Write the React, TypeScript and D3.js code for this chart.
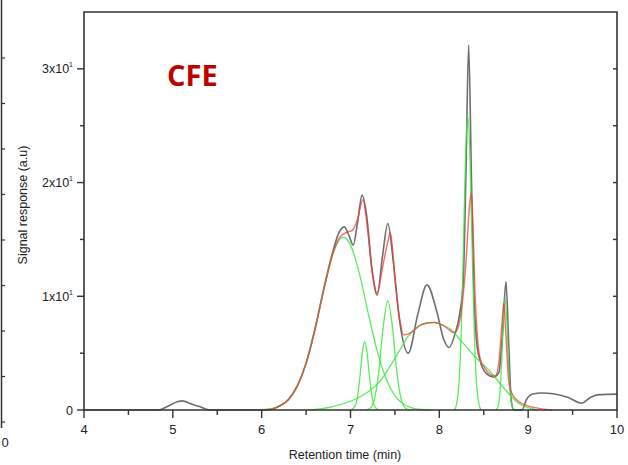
import React, { useEffect, useRef } from 'react';
import * as d3 from 'd3';

// axis ticks
const xTicks = [4, 5, 6, 7, 8, 9, 10];
const xMinor = [4.5, 5.5, 6.5, 7.5, 8.5, 9.5];
const yTicks = [0, 10, 20, 30];
const yMinor = [5, 15, 25];
const yLabels = ['0', '1x10', '2x10', '3x10'];

// measured chromatogram (black)
const signal: [number, number][] = [
  [4, 0], [4.84, 0], [4.95, 0.35], [5.05, 0.72], [5.11, 0.8], [5.2, 0.55], [5.3, 0.3], [5.42, 0],
  [6.0, 0], [6.1, 0.05], [6.2, 0.35], [6.3, 0.9], [6.4, 2.1], [6.5, 4.1], [6.6, 7.1], [6.7, 10.7],
  [6.8, 13.9], [6.87, 15.6], [6.93, 16.1], [6.98, 15.4], [7.03, 14.5], [7.08, 16.5], [7.13, 18.9],
  [7.18, 17.2], [7.24, 12.5], [7.3, 10.1], [7.36, 13.5], [7.42, 16.4], [7.48, 13.2], [7.55, 8.0],
  [7.65, 5.0], [7.76, 8.5], [7.86, 11.0], [7.97, 8.7], [8.05, 6.2], [8.11, 5.5], [8.18, 6.8],
  [8.23, 8.5], [8.27, 11.5], [8.3, 21], [8.33, 32.1], [8.36, 21], [8.39, 10], [8.42, 6.0],
  [8.46, 4.3], [8.53, 3.2], [8.61, 2.9], [8.67, 3.3], [8.71, 6.5], [8.75, 11.3], [8.78, 6.0],
  [8.81, 0.8], [8.84, 0], [8.93, 0], [8.98, 0.9], [9.05, 1.4], [9.15, 1.5], [9.3, 1.4],
  [9.45, 1.1], [9.6, 0.6], [9.7, 1.1], [9.8, 1.35], [10, 1.4]
];

// cumulative fit (red)
const fit: [number, number][] = [
  [6.0, 0], [6.1, 0.05], [6.2, 0.35], [6.3, 0.9], [6.4, 2.1], [6.5, 4.1], [6.6, 7.1], [6.7, 10.6],
  [6.8, 13.7], [6.88, 15.2], [6.95, 15.6], [7.02, 15.8], [7.08, 16.8], [7.14, 18.5], [7.19, 16.0],
  [7.25, 11.8], [7.3, 10.3], [7.36, 12.5], [7.42, 14.8], [7.45, 15.6], [7.5, 11.5], [7.55, 8.2],
  [7.6, 6.6], [7.68, 6.8], [7.8, 7.5], [7.94, 7.7], [8.05, 7.4], [8.17, 6.8], [8.22, 7.5],
  [8.26, 9.5], [8.3, 13], [8.34, 18], [8.36, 19.1], [8.38, 16], [8.4, 10.5], [8.43, 6.3],
  [8.46, 4.5], [8.52, 3.6], [8.58, 3.1], [8.63, 3.0], [8.67, 4.2], [8.7, 7.0], [8.725, 9.4],
  [8.75, 6.5], [8.78, 2.6], [8.81, 1.6], [8.87, 0.9], [8.95, 0.5], [9.05, 0.25], [9.15, 0.1], [9.27, 0]
];

// deconvoluted peaks (green)
const peak1: [number, number][] = [
  [6.0, 0.03], [6.2, 0.33], [6.3, 0.89], [6.4, 2.06], [6.5, 4.12], [6.6, 7.13], [6.7, 10.6],
  [6.8, 13.7], [6.92, 15.2], [7.0, 14.5], [7.1, 12.0], [7.2, 8.5], [7.3, 5.2], [7.4, 2.77],
  [7.5, 1.26], [7.6, 0.5], [7.7, 0.17], [7.8, 0.05], [7.9, 0]
];
const peak2: [number, number][] = [
  [7.01, 0.02], [7.06, 0.51], [7.085, 1.5], [7.11, 3.24], [7.135, 5.14], [7.16, 6.0],
  [7.185, 5.14], [7.21, 3.24], [7.235, 1.5], [7.26, 0.51], [7.31, 0.02]
];
const peak3: [number, number][] = [
  [7.17, 0.01], [7.22, 0.16], [7.27, 0.96], [7.32, 3.46], [7.37, 7.44], [7.42, 9.6],
  [7.47, 7.44], [7.52, 3.46], [7.57, 0.96], [7.62, 0.16], [7.67, 0.01]
];
const peak4: [number, number][] = [
  [6.55, 0], [6.8, 0.3], [7.04, 0.9], [7.2, 1.6], [7.34, 2.6], [7.45, 3.9], [7.55, 5.2],
  [7.65, 6.5], [7.75, 7.3], [7.85, 7.65], [7.95, 7.7], [8.05, 7.45], [8.17, 6.8], [8.21, 6.4],
  [8.3, 5.6], [8.4, 4.7], [8.56, 3.5], [8.74, 1.8], [8.89, 0.6], [9.0, 0.2], [9.1, 0]
];
const peak5: [number, number][] = [
  [8.17, 0], [8.195, 0.55], [8.22, 2.2], [8.245, 6.5], [8.27, 14.0], [8.295, 22.2], [8.32, 25.9],
  [8.345, 22.2], [8.37, 14.0], [8.395, 6.5], [8.42, 2.2], [8.445, 0.55], [8.47, 0]
];
const peak6: [number, number][] = [
  [8.64, 0.04], [8.66, 0.28], [8.68, 1.33], [8.7, 4.0], [8.72, 7.84], [8.74, 9.8],
  [8.76, 7.84], [8.78, 4.0], [8.8, 1.33], [8.82, 0.28], [8.84, 0.04]
];
const peaks = [peak1, peak2, peak3, peak4, peak5, peak6];

// cropped neighbouring panel on the far left
const sideTicks = [0, 1, 2, 3, 4, 5, 6, 7, 8];

export default function App() {
  const svgRef = useRef<SVGSVGElement>(null);

  useEffect(() => {
    const width = 628;
    const height = 465;
    const margin = { top: 12, right: 11, bottom: 55, left: 84 };
    const svg = d3.select(svgRef.current);
    svg.selectAll('*').remove();

    const x = d3.scaleLinear().domain([4, 10]).range([margin.left, width - margin.right]);
    const y = d3.scaleLinear().domain([0, 35]).range([height - margin.bottom, margin.top]);
    const axisColor = '#333';
    const font = 'Liberation Sans, Arial, sans-serif';

    // leftover panel edge
    const side = d3.scaleLinear().domain([0, 8]).range([58, 422]);
    svg.append('line').attr('x1', 1.5).attr('x2', 1.5).attr('y1', 0).attr('y2', 428)
      .attr('stroke', axisColor).attr('stroke-width', 1.5);
    svg.selectAll('.side-tick').data(sideTicks).join('line')
      .attr('x1', 1.5).attr('x2', 5).attr('y1', d => side(d)).attr('y2', d => side(d))
      .attr('stroke', axisColor).attr('stroke-width', 1.2);
    svg.append('text').attr('x', 5).attr('y', 447).attr('text-anchor', 'middle')
      .attr('font-family', font).attr('font-size', 13).attr('fill', '#222').text('0');

    const line = d3.line<[number, number]>()
      .x(d => x(d[0]))
      .y(d => y(d[1]))
      .curve(d3.curveMonotoneX);

    const g = svg.append('g');
    g.append('path').datum(signal).attr('d', line).attr('fill', 'none')
      .attr('stroke', '#555').attr('stroke-width', 1.6).attr('stroke-opacity', 0.85);
    g.selectAll('.peak').data(peaks).join('path')
      .attr('d', d => line(d)).attr('fill', 'none')
      .attr('stroke', '#3ee83e').attr('stroke-width', 1.3).attr('stroke-opacity', 0.85);
    g.append('path').datum(fit).attr('d', line).attr('fill', 'none')
      .attr('stroke', '#f03c3c').attr('stroke-width', 1.4).attr('stroke-opacity', 0.75);

    // frame
    const x0 = x(4), x1 = x(10), y0 = y(0), y1 = y(35);
    svg.append('path').attr('d', `M${x0},${y0}V${y1}H${x1}V${y0}Z`).attr('fill', 'none')
      .attr('stroke', axisColor).attr('stroke-width', 1.6);

    // x axis ticks (outward)
    svg.selectAll('.xt').data(xTicks).join('line')
      .attr('x1', d => x(d)).attr('x2', d => x(d)).attr('y1', y0).attr('y2', y0 + 8)
      .attr('stroke', axisColor).attr('stroke-width', 1.4);
    svg.selectAll('.xm').data(xMinor).join('line')
      .attr('x1', d => x(d)).attr('x2', d => x(d)).attr('y1', y0).attr('y2', y0 + 5)
      .attr('stroke', axisColor).attr('stroke-width', 1.4);
    svg.selectAll('.xl').data(xTicks).join('text')
      .attr('x', d => x(d)).attr('y', y0 + 24).attr('text-anchor', 'middle')
      .attr('font-family', font).attr('font-size', 13).attr('fill', '#222')
      .text(d => String(d));

    // y axis ticks (outward on left, inward on right)
    svg.selectAll('.yt').data(yTicks).join('line')
      .attr('x1', x0 - 7).attr('x2', x0).attr('y1', d => y(d)).attr('y2', d => y(d))
      .attr('stroke', axisColor).attr('stroke-width', 1.4);
    svg.selectAll('.ym').data(yMinor).join('line')
      .attr('x1', x0 - 4).attr('x2', x0).attr('y1', d => y(d)).attr('y2', d => y(d))
      .attr('stroke', axisColor).attr('stroke-width', 1.4);
    svg.selectAll('.yr').data([...yTicks.slice(1), ...yMinor]).join('line')
      .attr('x1', x1 - 4).attr('x2', x1).attr('y1', d => y(d)).attr('y2', d => y(d))
      .attr('stroke', axisColor).attr('stroke-width', 1.4);

    const yl = svg.selectAll('.yl').data(yTicks).join('text')
      .attr('x', x0 - 11).attr('y', d => y(d) + 4.5).attr('text-anchor', 'end')
      .attr('font-family', font).attr('font-size', 12.5).attr('fill', '#222');
    yl.append('tspan').text((d, i) => yLabels[i]);
    yl.filter(d => d !== 0).append('tspan')
      .attr('dy', -6).attr('font-size', 7).text('1');

    // titles
    svg.append('text').attr('x', 345).attr('y', 459).attr('text-anchor', 'middle')
      .attr('font-family', font).attr('font-size', 12.5).attr('fill', '#222')
      .text('Retention time (min)');
    svg.append('text')
      .attr('transform', `translate(27,${(y0 + y1) / 2 - 6}) rotate(-90)`)
      .attr('text-anchor', 'middle')
      .attr('font-family', font).attr('font-size', 12.5).attr('fill', '#222')
      .text('Signal response (a.u)');

    svg.append('text').attr('x', 167).attr('y', 86)
      .attr('font-family', 'Open Sans, sans-serif').attr('font-weight', 700)
      .attr('font-size', 29).attr('fill', '#c00000').text('CFE');
  }, []);

  return (
    <div style={{ position: 'absolute', left: 0, top: 0 }}>
      <svg ref={svgRef} width={628} height={465} style={{ display: 'block', background: '#fff' }} />
    </div>
  );
}
